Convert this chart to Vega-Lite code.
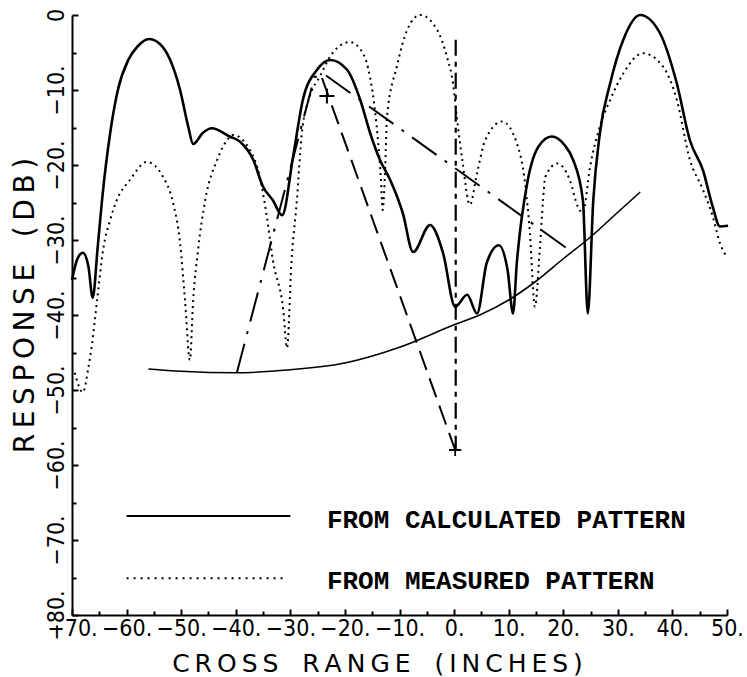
{
  "$schema": "https://vega.github.io/schema/vega-lite/v6.json",
  "width": 655,
  "height": 600,
  "autosize": {"type": "none"},
  "padding": {"left": 72, "top": 15, "right": 20, "bottom": 62},
  "background": "white",
  "config": {
    "view": {"stroke": null},
    "axis": {"grid": false, "domainColor": "black", "tickColor": "black", "labelColor": "black", "titleColor": "black"}
  },
  "datasets": {
    "calc": [
      {"x": -70, "y": -35.3}, {"x": -69, "y": -32.5}, {"x": -68, "y": -31.7}, {"x": -67, "y": -33.5},
      {"x": -66.2, "y": -37.7}, {"x": -65.3, "y": -31}, {"x": -64.5, "y": -24.7}, {"x": -63, "y": -15.7},
      {"x": -61.6, "y": -10}, {"x": -59.7, "y": -6}, {"x": -58, "y": -4.2}, {"x": -55.9, "y": -3.2},
      {"x": -54, "y": -3.8}, {"x": -52, "y": -6}, {"x": -50.2, "y": -10}, {"x": -48.7, "y": -14.9},
      {"x": -47.8, "y": -17.2}, {"x": -46, "y": -15.7}, {"x": -44.4, "y": -15.1}, {"x": -41.1, "y": -16.2},
      {"x": -39.2, "y": -16.9}, {"x": -36.8, "y": -19.3}, {"x": -35, "y": -22.9}, {"x": -33.2, "y": -24.7},
      {"x": -31.5, "y": -26.7}, {"x": -29.5, "y": -18.9}, {"x": -27.7, "y": -11.3}, {"x": -25.1, "y": -7.3},
      {"x": -22.7, "y": -6}, {"x": -19.6, "y": -7.3}, {"x": -17.2, "y": -11.3}, {"x": -15.4, "y": -15.7},
      {"x": -13.6, "y": -19.3}, {"x": -11.7, "y": -22}, {"x": -9.4, "y": -26.4}, {"x": -7.5, "y": -31.6},
      {"x": -4.4, "y": -28}, {"x": -2, "y": -31.8}, {"x": 0.2, "y": -38.9}, {"x": 2.4, "y": -37.3},
      {"x": 4.2, "y": -39.8}, {"x": 6, "y": -33}, {"x": 8.2, "y": -30.7}, {"x": 9.8, "y": -34},
      {"x": 10.8, "y": -39.8}, {"x": 11.5, "y": -33}, {"x": 13.4, "y": -22.4}, {"x": 15.5, "y": -17.5},
      {"x": 17.9, "y": -16.2}, {"x": 20.2, "y": -17.3}, {"x": 21.8, "y": -19.3}, {"x": 23.6, "y": -24.7},
      {"x": 24.5, "y": -39.8}, {"x": 25.5, "y": -24.7}, {"x": 26.7, "y": -15.8}, {"x": 28.6, "y": -9.1},
      {"x": 31, "y": -3.3}, {"x": 34.1, "y": 0}, {"x": 37.7, "y": -2.4}, {"x": 40.8, "y": -9.1},
      {"x": 43.2, "y": -16.7}, {"x": 45.6, "y": -20.7}, {"x": 47.4, "y": -25.6}, {"x": 48.7, "y": -28.2},
      {"x": 50.2, "y": -28.1}
    ],
    "meas": [
      {"x": -69.5, "y": -47.7}, {"x": -68, "y": -50.3}, {"x": -67, "y": -47}, {"x": -66.3, "y": -43.7},
      {"x": -65.4, "y": -38}, {"x": -64.3, "y": -31.3}, {"x": -63, "y": -27.3}, {"x": -61.8, "y": -24.7},
      {"x": -59.4, "y": -22}, {"x": -56.3, "y": -19.6}, {"x": -53.3, "y": -21.6}, {"x": -51.5, "y": -25},
      {"x": -50.2, "y": -30.4}, {"x": -49.3, "y": -38}, {"x": -48.4, "y": -46}, {"x": -47.8, "y": -38},
      {"x": -46.9, "y": -31.3}, {"x": -45.6, "y": -24.7}, {"x": -43.4, "y": -19.3}, {"x": -41.6, "y": -16.7},
      {"x": -40.5, "y": -16}, {"x": -37.4, "y": -18}, {"x": -35.6, "y": -21.6}, {"x": -34.3, "y": -26.9},
      {"x": -33.2, "y": -32.7}, {"x": -31.3, "y": -39.3}, {"x": -30.6, "y": -44.4}, {"x": -29.8, "y": -33},
      {"x": -28.8, "y": -24.7}, {"x": -27.9, "y": -15.8}, {"x": -26.5, "y": -11}, {"x": -24.6, "y": -8.2},
      {"x": -22.2, "y": -5}, {"x": -19.1, "y": -3.6}, {"x": -16.7, "y": -5.1}, {"x": -15.4, "y": -8.3},
      {"x": -14.5, "y": -12.7}, {"x": -13.9, "y": -17.1}, {"x": -13.4, "y": -22}, {"x": -13.1, "y": -26},
      {"x": -12.6, "y": -20}, {"x": -12.3, "y": -13.6}, {"x": -10.5, "y": -6.9}, {"x": -8.6, "y": -2},
      {"x": -6.2, "y": 0}, {"x": -3.1, "y": -2}, {"x": -1.3, "y": -5.6}, {"x": -0.2, "y": -9.1},
      {"x": 0.5, "y": -13.6}, {"x": 1.5, "y": -19.3}, {"x": 2.9, "y": -25.3}, {"x": 4.2, "y": -21.1},
      {"x": 5.7, "y": -16.7}, {"x": 8.8, "y": -14.2}, {"x": 11.5, "y": -17.1}, {"x": 13, "y": -22.4},
      {"x": 13.9, "y": -29.1}, {"x": 14.8, "y": -38.9}, {"x": 15.7, "y": -31.3}, {"x": 16.3, "y": -24.7},
      {"x": 16.7, "y": -21.6}, {"x": 18.9, "y": -19.8}, {"x": 21.2, "y": -22}, {"x": 22.7, "y": -25.6},
      {"x": 23.6, "y": -26.4}, {"x": 24.9, "y": -20.3}, {"x": 26.7, "y": -14.9}, {"x": 28.6, "y": -11.3},
      {"x": 31, "y": -7.8}, {"x": 34.6, "y": -5.1}, {"x": 38.3, "y": -6.9}, {"x": 40.8, "y": -11.3},
      {"x": 43.2, "y": -19.3}, {"x": 45.6, "y": -23.3}, {"x": 47.4, "y": -26.9}, {"x": 48.7, "y": -30.4},
      {"x": 50, "y": -32.3}
    ],
    "envelope": [
      {"x": -56, "y": -47.2}, {"x": -50, "y": -47.5}, {"x": -40, "y": -47.7}, {"x": -30, "y": -47.3},
      {"x": -20, "y": -46.4}, {"x": -10, "y": -44.3}, {"x": 0, "y": -41.3}, {"x": 5, "y": -39.9},
      {"x": 10, "y": -38}, {"x": 15, "y": -35.5}, {"x": 20, "y": -32.5}, {"x": 25, "y": -29.6},
      {"x": 30, "y": -26.3}, {"x": 34.1, "y": -23.6}
    ],
    "dashdot": [
      {"x": -39.8, "y": -47.7}, {"x": -25.6, "y": -8.3}, {"x": -23.8, "y": -7.9}, {"x": 21.6, "y": -31.6}
    ],
    "dashed": [
      {"x": -24.2, "y": -8.4}, {"x": 0.2, "y": -58}
    ],
    "vertical": [
      {"x": 0.3, "y": -3.3}, {"x": 0.3, "y": -58}
    ],
    "plusBig": [{"x": -23.3, "y": -10.8}],
    "plusSmall": [{"x": 0.2, "y": -58}],
    "legendCalc": [{"x": -60, "y": -66.8}, {"x": -30, "y": -66.8}],
    "legendMeas": [{"x": -60, "y": -75.1}, {"x": -30.8, "y": -75.1}],
    "legendText": [
      {"x": -23.3, "y": -67.3, "label": "FROM CALCULATED PATTERN"},
      {"x": -23.3, "y": -75.5, "label": "FROM MEASURED PATTERN"}
    ]
  },
  "encoding": {
    "x": {
      "field": "x", "type": "quantitative",
      "scale": {"domain": [-70, 50], "nice": false, "zero": false},
      "axis": {
        "values": [-70, -65, -60, -55, -50, -45, -40, -35, -30, -25, -20, -15, -10, -5, 0, 5, 10, 15, 20, 25, 30, 35, 40, 45, 50],
        "labelExpr": "datum.value % 10 !== 0 ? '' : (datum.value < 0 ? '\u2212' + (-datum.value) + '.' : datum.value + '.')",
        "tickSize": {"condition": {"test": "datum.value % 10 === 0", "value": -6}, "value": -4},
        "tickWidth": 2,
        "domainWidth": 2,
        "labelFont": "DejaVu Sans Condensed",
        "labelFontSize": 23,
        "labelPadding": 8,
        "labelFlush": false,
        "labelOverlap": false,
        "labelBaseline": "top",
        "title": "C\u2009R\u2009O\u2009S\u2009S\u00a0\u00a0\u00a0R\u2009A\u2009N\u2009G\u2009E\u00a0\u00a0\u00a0(\u2009I\u2009N\u2009C\u2009H\u2009E\u2009S\u2009)",
        "titleFont": "DejaVu Sans",
        "titleFontSize": 25,
        "titleFontWeight": "normal",
        "titleX": 305,
        "titleY": 56,
        "titleAlign": "center",
        "titleBaseline": "alphabetic"
      }
    },
    "y": {
      "field": "y", "type": "quantitative",
      "scale": {"domain": [-80, 0], "nice": false, "zero": false},
      "axis": {
        "values": [-80, -75, -70, -65, -60, -55, -50, -45, -40, -35, -30, -25, -20, -15, -10, -5, 0],
        "labelExpr": "datum.value % 10 !== 0 ? '' : (datum.value === 0 ? '0' : '\u2212' + (-datum.value) + '.')",
        "tickSize": {"condition": {"test": "datum.value % 10 === 0", "value": -6}, "value": -4},
        "tickWidth": 2,
        "domainWidth": 2,
        "labelFont": "DejaVu Sans Condensed",
        "labelFontSize": 23,
        "labelAngle": 270,
        "labelAlign": "center",
        "labelBaseline": "bottom",
        "labelPadding": 10,
        "labelFlush": false,
        "labelOverlap": false,
        "title": "R\u2009E\u2009S\u2009P\u2009O\u2009N\u2009S\u2009E\u00a0\u00a0\u00a0(\u2009D\u2009B\u2009)",
        "titleFont": "DejaVu Sans",
        "titleFontSize": 28,
        "titleFontWeight": "normal",
        "titleX": -33,
        "titleY": 290,
        "titleAngle": 270,
        "titleAlign": "center",
        "titleBaseline": "bottom"
      }
    }
  },
  "layer": [
    {"data": {"name": "calc"}, "mark": {"type": "line", "color": "black", "strokeWidth": 2.6, "interpolate": "monotone"}},
    {"data": {"name": "meas"}, "mark": {"type": "line", "color": "black", "strokeWidth": 2, "strokeDash": [2, 4], "interpolate": "monotone"}},
    {"data": {"name": "envelope"}, "mark": {"type": "line", "color": "black", "strokeWidth": 1.6, "interpolate": "monotone"}},
    {"data": {"name": "dashdot"}, "mark": {"type": "line", "color": "black", "strokeWidth": 2, "strokeDash": [30, 10, 3, 10]}},
    {"data": {"name": "dashed"}, "mark": {"type": "line", "color": "black", "strokeWidth": 2, "strokeDash": [20, 9]}},
    {"data": {"name": "vertical"}, "mark": {"type": "line", "color": "black", "strokeWidth": 2.2, "strokeDash": [16, 6, 5, 6]}},
    {"data": {"name": "plusBig"}, "mark": {"type": "point", "shape": "M-1,0L1,0M0,-1L0,1", "filled": false, "color": "black", "strokeWidth": 2, "size": 225, "opacity": 1}},
    {"data": {"name": "plusSmall"}, "mark": {"type": "point", "shape": "M-1,0L1,0M0,-1L0,1", "filled": false, "color": "black", "strokeWidth": 1.8, "size": 150, "opacity": 1}},
    {"data": {"name": "legendCalc"}, "mark": {"type": "line", "color": "black", "strokeWidth": 2}},
    {"data": {"name": "legendMeas"}, "mark": {"type": "line", "color": "black", "strokeWidth": 1.8, "strokeDash": [2, 5]}},
    {"data": {"name": "legendText"}, "mark": {"type": "text", "align": "left", "baseline": "middle", "font": "Liberation Mono", "fontWeight": "bold", "fontSize": 26, "color": "black"}, "encoding": {"text": {"field": "label", "type": "nominal"}}}
  ]
}
